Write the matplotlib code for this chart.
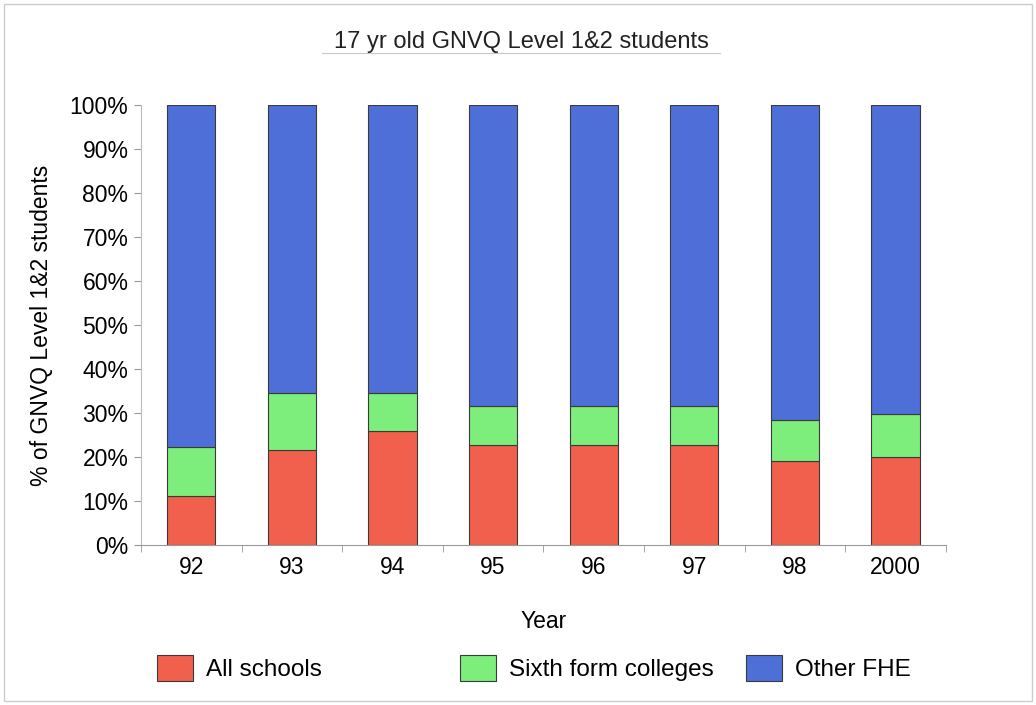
import numpy as np
import matplotlib.pyplot as plt
from matplotlib.lines import Line2D
from matplotlib.patches import Rectangle
from matplotlib.ticker import FixedLocator, PercentFormatter

# --- data (percent of 17 yr old GNVQ Level 1&2 students) ---
years = ["92", "93", "94", "95", "96", "97", "98", "2000"]
all_schools = [11.1, 21.7, 25.8, 22.7, 22.7, 22.7, 19.2, 19.9]
sixth_form = [11.1, 12.9, 8.8, 8.9, 8.9, 8.9, 9.2, 9.9]
other_fhe = [100 - a - s for a, s in zip(all_schools, sixth_form)]

series = [("All schools", all_schools, "#f0604c"),
          ("Sixth form colleges", sixth_form, "#7ded7c"),
          ("Other FHE", other_fhe, "#4f6fd8")]

plt.rcParams['font.family'] = ['Liberation Sans', 'DejaVu Sans']

fig = plt.figure(figsize=(10.36, 7.05), dpi=100)
ax = fig.add_axes([0.136, 0.227, 0.777, 0.624])

x = np.arange(len(years))
bottom = np.zeros(len(years))
handles = []
for name, vals, col in series:
    b = ax.bar(x, vals, width=0.48, bottom=bottom, color=col,
               edgecolor="#3a3a3a", linewidth=0.8, label=name)
    handles.append(b)
    bottom += np.array(vals)

ax.set_xlim(-0.5, len(years) - 0.5)
ax.set_ylim(0, 100)
ax.set_yticks(np.arange(0, 101, 10))
ax.yaxis.set_major_formatter(PercentFormatter(decimals=0))
ax.set_xticks(x)
ax.set_xticklabels(years)
ax.xaxis.set_minor_locator(FixedLocator(np.arange(-0.5, len(years), 1)))
ax.tick_params(axis="x", which="major", length=0, labelsize=16.5, pad=8)
ax.tick_params(axis="x", which="minor", length=5, color="#999999")
ax.tick_params(axis="y", length=5, color="#999999", labelsize=16.5, pad=4)

for s in ["top", "right"]:
    ax.spines[s].set_visible(False)
ax.spines["left"].set_color("#bbbbbb")
ax.spines["bottom"].set_color("#999999")

ax.set_xlabel("Year", fontsize=16.5, labelpad=22)
ax.set_ylabel("% of GNVQ Level 1&2 students", fontsize=16.5, labelpad=12)
fig.text(0.503, 0.94, "17 yr old GNVQ Level 1&2 students", ha="center",
         va="center", fontsize=17, color="#222222")
fig.add_artist(Line2D([0.311, 0.695], [0.925, 0.925], transform=fig.transFigure,
                      color="#c8c8c8", linewidth=0.8))

# legend entries placed like the original (fixed-width slots)
legend_x = [0.1515, 0.444, 0.720]
for h, lx in zip(handles, legend_x):
    fig.legend(handles=[h], loc="center left", bbox_to_anchor=(lx, 0.052),
               frameon=False, fontsize=17.5, handlelength=1.5,
               handleheight=1.25, handletextpad=0.5, borderpad=0, borderaxespad=0)

fig.patches.append(Rectangle((0.004, 0.006), 0.992, 0.988, transform=fig.transFigure,
                             fill=False, edgecolor="#cccccc", linewidth=1))

fig.savefig("out.png", dpi=100)
